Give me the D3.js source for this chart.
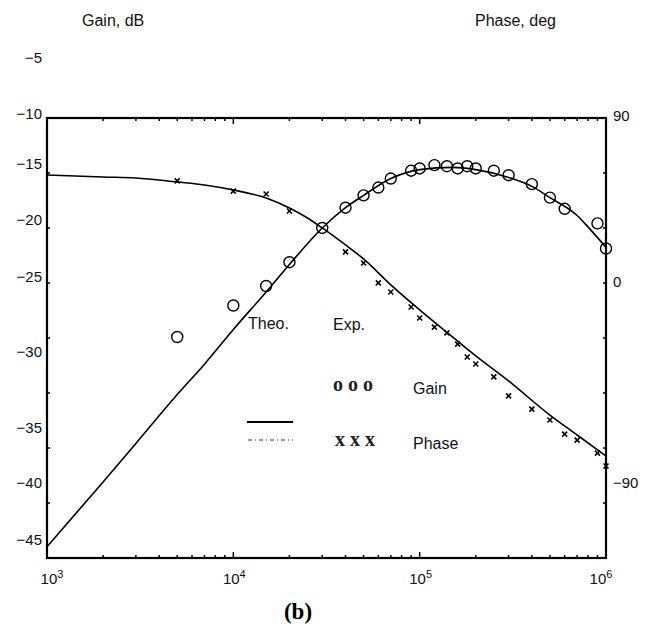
<!DOCTYPE html>
<html>
<head>
<meta charset="utf-8">
<script src="https://cdn.jsdelivr.net/npm/d3@7"></script>
<style>
    body { margin: 0; background: #fff; }
    svg { display: block; font-family: "Liberation Sans", Arial, sans-serif; }
    .lbl { font-size: 15px; fill: #111; }
    .title { font-size: 16px; fill: #111; }
    .serif { font-family: "Liberation Serif", "Times New Roman", serif; }
</style>
</head>
<body>
<script>

// theoretical gain (dB) and phase (deg) vs frequency (Hz)
var freqGainTheo = [1e3, 2e3, 3e3, 5e3, 7e3, 1e4, 1.5e4, 2e4, 3e4, 4e4, 5e4, 7e4, 1e5, 1.5e5, 2e5, 3e5, 4e5, 5e5, 7e5, 8e5, 1e6];
var gainTheo = [-45.6, -39.9, -36.4, -32.8, -30.8, -28.5, -26.0, -23.9, -20.7, -18.9, -17.8, -16.3, -15.5, -15.3, -15.5, -16.2, -17.0, -18.0, -19.6, -20.6, -22.4];

var freqPhaseTheo = [1e3, 2e3, 3e3, 5e3, 7e3, 1e4, 1.5e4, 2e4, 2.5e4, 3e4, 4e4, 5e4, 7e4, 1e5, 1.5e5, 2e5, 3e5, 5e5, 7e5, 1e6];
var phaseTheo = [58.0, 56.9, 56.4, 54.2, 52.6, 49.9, 45.5, 40.1, 34.7, 29.3, 20.1, 12.5, -1.3, -12.5, -24.6, -33.1, -44.3, -59.6, -68.5, -77.9];

// experimental points
var freqGainExp = [5e3, 1e4, 1.5e4, 2e4, 3e4, 4e4, 5e4, 6e4, 7e4, 9e4, 1e5, 1.2e5, 1.4e5, 1.6e5, 1.8e5, 2e5, 2.5e5, 3e5, 4e5, 5e5, 6e5, 9e5, 1e6];
var gainExp = [-29.0, -26.9, -25.6, -23.7, -20.7, -18.9, -17.8, -17.1, -16.3, -15.6, -15.4, -15.1, -15.2, -15.4, -15.2, -15.4, -15.6, -16.0, -16.8, -18.0, -19.0, -20.3, -22.5];

var freqPhaseExp = [5e3, 1e4, 1.5e4, 2e4, 4e4, 5e4, 6e4, 7e4, 9e4, 1e5, 1.2e5, 1.4e5, 1.6e5, 1.8e5, 2e5, 2.5e5, 3e5, 4e5, 5e5, 6e5, 7e5, 9e5, 1e6];
var phaseExp = [54.8, 49.3, 47.7, 38.5, 16.3, 10.3, -0.4, -4.5, -11.2, -16.1, -20.2, -22.8, -27.8, -33.6, -36.7, -42.5, -51.0, -56.9, -61.8, -68.1, -70.8, -76.6, -82.4];

// tick labels
var gainTicks = [-5, -10, -15, -20, -25, -30, -35, -40, -45];
var phaseTicks = [90, 0, -90];
var decades = [1e3, 1e4, 1e5, 1e6];

var width = 653, height = 626;
var plotL = 47, plotR = 606, plotT = 118, plotB = 558;

var svg = d3.select("body").append("svg")
    .attr("width", width)
    .attr("height", height);

var x = d3.scaleLog()
    .domain([1e3, 1e6])
    .range([plotL, plotR]);

// the printed scale labels are not evenly spaced, so both y scales are piecewise
var yGain = d3.scaleLinear()
    .domain(gainTicks)
    .range([58, 114, 164, 220, 277, 352, 428, 483, 540]);

var yPhase = d3.scaleLinear()
    .domain(phaseTicks)
    .range([116, 282, 483]);

// frame ticks along the sides, 8 equal steps
var ySide = d3.scaleLinear().domain([0, 8]).range([plotT, plotB]);

var frame = svg.append("g");

frame.selectAll(".ltick")
    .data(d3.range(1, 8))
    .enter().append("line")
    .attr("x1", plotL).attr("x2", plotL + 3)
    .attr("y1", d => ySide(d)).attr("y2", d => ySide(d))
    .attr("stroke", "#000").attr("stroke-width", 1.5);

frame.selectAll(".rtick")
    .data(d3.range(1, 8))
    .enter().append("line")
    .attr("x1", plotR).attr("x2", plotR - 3)
    .attr("y1", d => ySide(d)).attr("y2", d => ySide(d))
    .attr("stroke", "#000").attr("stroke-width", 1.5);

var logTicks = x.ticks().filter(d => d > 1e3 && d < 1e6);

frame.selectAll(".btick")
    .data(logTicks)
    .enter().append("line")
    .attr("x1", d => x(d)).attr("x2", d => x(d))
    .attr("y1", plotB).attr("y2", d => decades.indexOf(d) >= 0 ? plotB - 6 : plotB - 3)
    .attr("stroke", "#000").attr("stroke-width", 1.5);

frame.selectAll(".ttick")
    .data(logTicks)
    .enter().append("line")
    .attr("x1", d => x(d)).attr("x2", d => x(d))
    .attr("y1", plotT).attr("y2", d => decades.indexOf(d) >= 0 ? plotT + 6 : plotT + 3)
    .attr("stroke", "#000").attr("stroke-width", 1.5);

frame.append("rect")
    .attr("x", plotL).attr("y", plotT)
    .attr("width", plotR - plotL).attr("height", plotB - plotT)
    .attr("fill", "none")
    .attr("stroke", "#000")
    .attr("stroke-width", 2.2);

// axis labels
var gAxis = svg.append("g")
    .attr("transform", `translate(${plotL},0)`)
    .call(d3.axisLeft(yGain).tickValues(gainTicks).tickSize(0).tickPadding(5));
gAxis.select(".domain").remove();
gAxis.selectAll("text").attr("font-size", 15).attr("fill", "#111");

var pAxis = svg.append("g")
    .attr("transform", `translate(${plotR},0)`)
    .call(d3.axisRight(yPhase).tickValues(phaseTicks).tickSize(0).tickPadding(7));
pAxis.select(".domain").remove();
pAxis.selectAll("text").attr("font-size", 15).attr("fill", "#111");

var xl = svg.selectAll(".xl")
    .data(decades)
    .enter().append("text")
    .attr("class", "lbl")
    .attr("x", d => x(d) + (d === 1e3 ? 5 : d === 1e6 ? -5 : 1))
    .attr("y", 584)
    .attr("text-anchor", "middle");
xl.append("tspan").text("10");
xl.append("tspan")
    .attr("dy", -6)
    .attr("font-size", 11)
    .text(d => Math.round(Math.log10(d)));

svg.append("text").attr("class", "title")
    .attr("x", 82).attr("y", 26).text("Gain, dB");
svg.append("text").attr("class", "title")
    .attr("x", 475).attr("y", 26).text("Phase, deg");

svg.append("text")
    .attr("class", "serif")
    .attr("x", 298).attr("y", 619)
    .attr("text-anchor", "middle")
    .attr("font-size", 23)
    .attr("font-weight", "bold")
    .attr("fill", "#000")
    .text("(b)");

// curves
var lineGain = d3.line()
    .x((d, i) => x(freqGainTheo[i]))
    .y(d => yGain(d))
    .curve(d3.curveMonotoneX);

var linePhase = d3.line()
    .x((d, i) => x(freqPhaseTheo[i]))
    .y(d => yPhase(d))
    .curve(d3.curveMonotoneX);

svg.append("path")
    .datum(gainTheo)
    .attr("d", lineGain)
    .attr("fill", "none")
    .attr("stroke", "#000")
    .attr("stroke-width", 1.6);

svg.append("path")
    .datum(phaseTheo)
    .attr("d", linePhase)
    .attr("fill", "none")
    .attr("stroke", "#000")
    .attr("stroke-width", 1.6);

// experimental markers
svg.selectAll(".gexp")
    .data(gainExp)
    .enter().append("circle")
    .attr("cx", (d, i) => x(freqGainExp[i]))
    .attr("cy", d => yGain(d))
    .attr("r", 5.5)
    .attr("fill", "none")
    .attr("stroke", "#000")
    .attr("stroke-width", 1.4);

svg.selectAll(".pexp")
    .data(phaseExp)
    .enter().append("path")
    .attr("transform", (d, i) => `translate(${x(freqPhaseExp[i])},${yPhase(d)})`)
    .attr("d", "M-2.5,-2.5L2.5,2.5M-2.5,2.5L2.5,-2.5")
    .attr("stroke", "#000")
    .attr("stroke-width", 1.6);

// legend
var legend = svg.append("g");
legend.append("text").attr("class", "title").attr("x", 248).attr("y", 329).text("Theo.");
legend.append("text").attr("class", "title").attr("x", 333).attr("y", 330).text("Exp.");
legend.append("text").attr("class", "serif").attr("x", 333).attr("y", 391)
    .attr("font-size", 20).attr("font-weight", "bold").attr("fill", "#222").text("o o o");
legend.append("text").attr("class", "title").attr("x", 413).attr("y", 394).text("Gain");
legend.append("line")
    .attr("x1", 247).attr("x2", 293).attr("y1", 422).attr("y2", 422)
    .attr("stroke", "#000").attr("stroke-width", 2);
legend.append("line")
    .attr("x1", 248).attr("x2", 293).attr("y1", 440).attr("y2", 440)
    .attr("stroke", "#333").attr("stroke-width", 1)
    .attr("stroke-dasharray", "4 3 1 3");
legend.append("text").attr("class", "serif").attr("x", 335).attr("y", 446)
    .attr("font-size", 20).attr("font-weight", "bold").attr("fill", "#222").text("x x x");
legend.append("text").attr("class", "title").attr("x", 413).attr("y", 449).text("Phase");

</script>
</body>
</html>
